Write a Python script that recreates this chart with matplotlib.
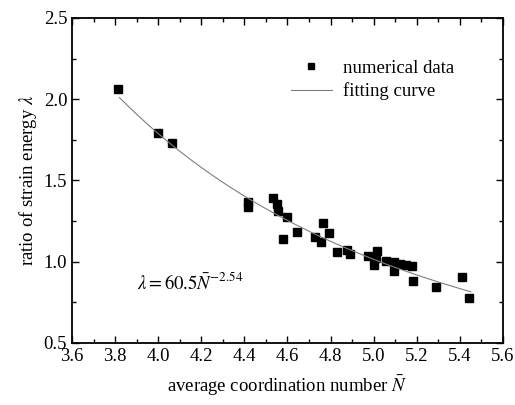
import numpy as np
import matplotlib
matplotlib.use("Agg")
import matplotlib.pyplot as plt
from matplotlib.ticker import MultipleLocator

plt.rcParams['font.family'] = 'serif'
plt.rcParams['font.serif'] = ['Liberation Serif', 'DejaVu Serif']
plt.rcParams['mathtext.fontset'] = 'stix'

# numerical data
n_avg = [3.815, 3.998, 4.063, 4.415, 4.415, 4.534, 4.55, 4.557, 4.60, 4.578,
         4.646, 4.728, 4.766, 4.793, 4.754, 4.831, 4.875, 4.89, 4.975, 5.014,
         5.001, 5.01, 5.057, 5.096, 5.096, 5.122, 5.15, 5.178, 5.181, 5.289,
         5.41, 5.444]
ratio = [2.061, 1.794, 1.733, 1.370, 1.339, 1.390, 1.355, 1.310, 1.275, 1.138,
         1.181, 1.154, 1.240, 1.175, 1.120, 1.058, 1.072, 1.050, 1.035, 1.064,
         0.980, 1.021, 1.005, 0.997, 0.943, 0.985, 0.980, 0.975, 0.883, 0.845,
         0.906, 0.775]

# fit: lambda = a * N^b
fit_a = 60.5
fit_b = -2.54
fit_range = (3.82, 5.45)

fs = 13.5

fig = plt.figure(figsize=(5.15, 4.05), dpi=100)
ax = fig.add_axes([0.1398, 0.1531, 0.8369, 0.8025])

ax.plot(n_avg, ratio, 's', color='black', markersize=6, label='numerical data')
xs = np.linspace(fit_range[0], fit_range[1], 200)
ax.plot(xs, fit_a * xs ** fit_b, color='#7f7f7f', linewidth=0.8, label='fitting curve')

ax.set_xlim(3.6, 5.6)
ax.set_ylim(0.5, 2.5)
ax.xaxis.set_major_locator(MultipleLocator(0.2))
ax.xaxis.set_minor_locator(MultipleLocator(0.1))
ax.yaxis.set_major_locator(MultipleLocator(0.5))
ax.yaxis.set_minor_locator(MultipleLocator(0.25))
ax.xaxis.set_major_formatter(matplotlib.ticker.FormatStrFormatter('%.1f'))
ax.yaxis.set_major_formatter(matplotlib.ticker.FormatStrFormatter('%.1f'))
ax.tick_params(which='both', direction='in', top=True, right=True, labelsize=fs)
ax.tick_params(which='major', length=5, width=1)
ax.tick_params(which='minor', length=3, width=1)
for s in ax.spines.values():
    s.set_linewidth(1.3)

ax.set_xlabel(r'average coordination number $\bar{N}$', fontsize=fs, labelpad=6)
ax.set_ylabel(r'ratio of strain energy $\lambda$', fontsize=fs, labelpad=3)

ax.text(3.9, 0.875, r'$\lambda = 60.5\bar{N}^{-2.54}$', fontsize=fs, va='center')

ax.legend(loc='upper right', bbox_to_anchor=(0.905, 0.895), frameon=False,
          fontsize=fs, handlelength=2.2, handletextpad=0.6, borderaxespad=0.0,
          labelspacing=0.3, markerscale=0.8)

fig.savefig('out.png', dpi=100)
